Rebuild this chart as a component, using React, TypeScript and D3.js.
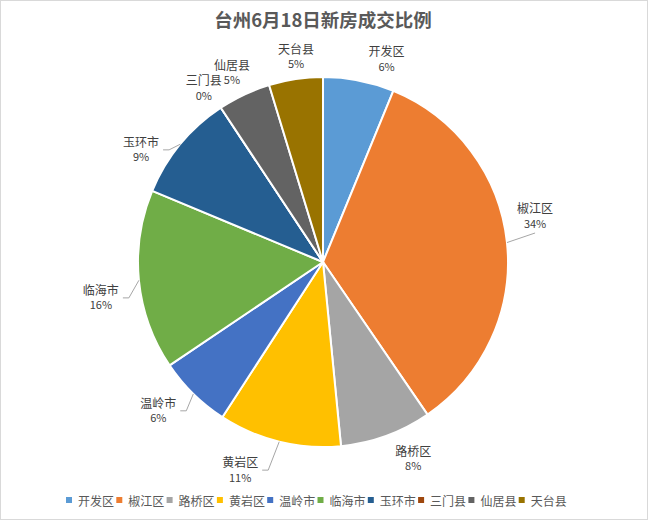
import React from "react";
import * as d3 from "d3";

const title = "台州6月18日新房成交比例";
const categories = ["开发区", "椒江区", "路桥区", "黄岩区", "温岭市", "临海市", "玉环市", "三门县", "仙居县", "天台县"];
const shares = [6.2, 34.2, 8.0, 10.7, 6.4, 15.7, 9.4, 0, 4.6, 4.7];
const colors = ["#5B9BD5", "#ED7D31", "#A5A5A5", "#FFC000", "#4472C4", "#70AD47", "#255E91", "#9E480E", "#636363", "#997300"];

// label layout: angular offset from slice mid-angle (deg), distance from centre (px), leader line
const labelDAngle = [6.2, -6.2, -4.6, 8.0, 3.4, -3.5, -7.9, -0.9, -0.5, 1.0];
const labelRadius = [212.7, 217, 216.6, 224, 222, 225, 213.7, 210.8, 209.8, 206.8];
const labelLeader = [false, true, false, true, true, true, true, false, false, false];

const W = 648;
const H = 520;
const cx = 323;
const cy = 262;
const R = 185;
const FONT = "'Noto Sans CJK SC', 'Microsoft YaHei', sans-serif";

export default function App() {
  const pie = d3.pie<number>().sort(null).value((d) => d).startAngle(0).endAngle(2 * Math.PI);
  const arcs = pie(shares);
  const arc = d3.arc<d3.PieArcDatum<number>>().innerRadius(0).outerRadius(R);
  const total = d3.sum(shares);
  const legendX = d3.scaleBand<string>().domain(categories).range([66, 66 + 50.3 * categories.length]);

  const toXY = (ang: number, r: number): [number, number] => [cx + r * Math.sin(ang), cy - r * Math.cos(ang)];

  return (
    <svg width={W} height={H} style={{ position: "absolute", left: 0, top: 0, background: "#fff" }} fontFamily={FONT}>
      <rect x={0.5} y={0.5} width={W - 1} height={H - 1} fill="#fff" stroke="#d9d9d9" />
      <text x={323} y={19} textAnchor="middle" dominantBaseline="central" fontSize={18.5} fontWeight="bold" fill="#595959">
        {title}
      </text>
      <g transform={`translate(${cx},${cy})`}>
        {arcs.map((a, i) => (
          <path key={i} d={arc(a) || ""} fill={colors[i]} stroke="#fff" strokeWidth={2} strokeLinejoin="round" />
        ))}
      </g>
      {arcs.map((a, i) => {
        const mid = (a.startAngle + a.endAngle) / 2;
        const la = mid + (labelDAngle[i] * Math.PI) / 180;
        const [lx, ly] = toXY(la, labelRadius[i]);
        const pct = Math.round((shares[i] / total) * 100) + "%";
        let leader = null;
        if (labelLeader[i]) {
          const [ex, ey] = toXY(mid, R);
          let pts: [number, number][];
          if (lx < ex) {
            const bx = lx + 22;
            pts = [[ex, ey], [bx + 6, ly], [bx, ly]];
          } else {
            pts = [[ex, ey], [lx, ly + 17]];
          }
          leader = <path d={d3.line()(pts) || ""} fill="none" stroke="#a6a6a6" strokeWidth={1} />;
        }
        return (
          <g key={i}>
            {leader}
            <text x={lx} y={ly - 3} textAnchor="middle" fontSize={12} fill="#404040">
              <tspan x={lx} dy={0}>{categories[i]}</tspan>
              <tspan x={lx} dy={14.5} fontSize={11}>{pct}</tspan>
            </text>
          </g>
        );
      })}
      {categories.map((c, i) => {
        const x = legendX(c) as number;
        return (
          <g key={c}>
            <rect x={x} y={497} width={6} height={6} fill={colors[i]} />
            <text x={x + 12} y={500} dominantBaseline="central" fontSize={12} fill="#595959">
              {c}
            </text>
          </g>
        );
      })}
    </svg>
  );
}
